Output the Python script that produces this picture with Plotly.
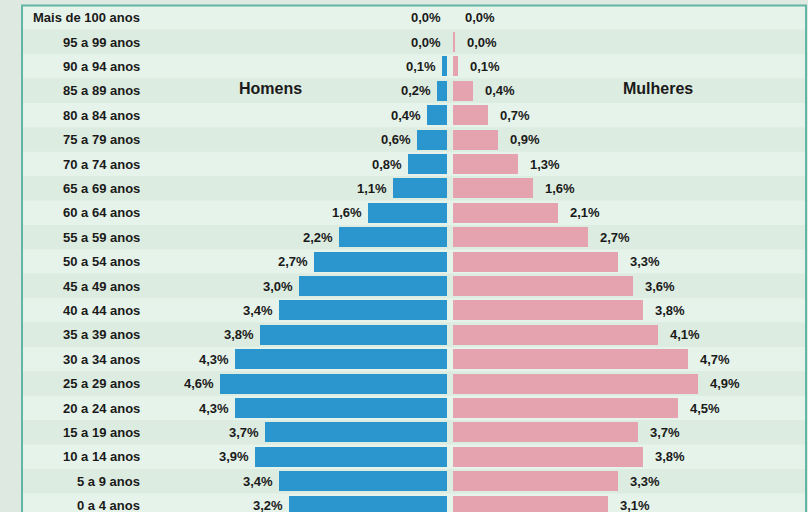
import plotly.graph_objects as go

age_groups = ["Mais de 100 anos", "95 a 99 anos", "90 a 94 anos", "85 a 89 anos",
              "80 a 84 anos", "75 a 79 anos", "70 a 74 anos", "65 a 69 anos",
              "60 a 64 anos", "55 a 59 anos", "50 a 54 anos", "45 a 49 anos",
              "40 a 44 anos", "35 a 39 anos", "30 a 34 anos", "25 a 29 anos",
              "20 a 24 anos", "15 a 19 anos", "10 a 14 anos", "5 a 9 anos", "0 a 4 anos"]
men = [0.0, 0.0, 0.1, 0.2, 0.4, 0.6, 0.8, 1.1, 1.6, 2.2, 2.7, 3.0, 3.4, 3.8,
       4.3, 4.6, 4.3, 3.7, 3.9, 3.4, 3.2]
women = [0.0, 0.04, 0.1, 0.4, 0.7, 0.9, 1.3, 1.6, 2.1, 2.7, 3.3, 3.6, 3.8, 4.1,
         4.7, 4.9, 4.5, 3.7, 3.8, 3.3, 3.1]
men_labels = ["0,0%", "0,0%", "0,1%", "0,2%", "0,4%", "0,6%", "0,8%", "1,1%", "1,6%",
              "2,2%", "2,7%", "3,0%", "3,4%", "3,8%", "4,3%", "4,6%", "4,3%", "3,7%",
              "3,9%", "3,4%", "3,2%"]
women_labels = ["0,0%", "0,0%", "0,1%", "0,4%", "0,7%", "0,9%", "1,3%", "1,6%", "2,1%",
                "2,7%", "3,3%", "3,6%", "3,8%", "4,1%", "4,7%", "4,9%", "4,5%", "3,7%",
                "3,8%", "3,3%", "3,1%"]

W, H = 808, 512
FONT = "Arial, 'Liberation Sans', sans-serif"
TXT = "#1a1a1a"
pos = list(range(len(age_groups)))

fig = go.Figure()
fig.add_trace(go.Bar(
    y=pos, x=men, orientation="h", xaxis="x", yaxis="y",
    marker=dict(color="#2b96ce", line=dict(width=0)), width=0.82,
    hoverinfo="skip", showlegend=False))
fig.add_trace(go.Bar(
    y=pos, x=women, orientation="h", xaxis="x2", yaxis="y",
    marker=dict(color="#e5a2af", line=dict(width=0)), width=0.82,
    hoverinfo="skip", showlegend=False))

annotations = []
# row (age group) labels
for i, g in enumerate(age_groups):
    annotations.append(dict(text="<b>%s</b>" % g, xref="paper", yref="y", x=142 / W, y=i,
                            xanchor="right", showarrow=False,
                            font=dict(family=FONT, size=13, color=TXT)))
for i, (v, t) in enumerate(zip(men, men_labels)):
    annotations.append(dict(text="<b>%s</b>" % t, xref="x", yref="y", x=v, y=i,
                            xanchor="right", xshift=-4, showarrow=False,
                            font=dict(family=FONT, size=13, color=TXT)))
for i, (v, t) in enumerate(zip(women, women_labels)):
    annotations.append(dict(text="<b>%s</b>" % t, xref="x2", yref="y", x=v, y=i,
                            xanchor="left", xshift=10, showarrow=False,
                            font=dict(family=FONT, size=13, color=TXT)))
annotations.append(dict(text="<b>Homens</b>", xref="paper", yref="y", x=270 / W, y=3,
                        xanchor="center", yshift=2, showarrow=False,
                        font=dict(family=FONT, size=16, color=TXT)))
annotations.append(dict(text="<b>Mulheres</b>", xref="paper", yref="y", x=658 / W, y=3,
                        xanchor="center", yshift=2, showarrow=False,
                        font=dict(family=FONT, size=16, color=TXT)))

# row bands
shapes = []
for i in pos:
    shapes.append(dict(type="rect", xref="paper", yref="y", x0=22 / W, x1=806 / W,
                       y0=i - 0.5, y1=i + 0.5, layer="below", line=dict(width=0),
                       fillcolor="#e6f3ea" if i % 2 == 0 else "#ddece0"))
shapes.append(dict(type="rect", xref="paper", yref="y", x0=22 / W, x1=806 / W,
                   y0=-0.5, y1=len(pos) + 1, layer="below",
                   line=dict(color="#64b4a3", width=2), fillcolor="rgba(0,0,0,0)"))

male_px = 49.3
female_px = 49.9
male_dom = (147 / W, 447 / W)
female_dom = (453 / W, 806 / W)
row0, pitch = 17.6, 24.4

fig.update_layout(
    width=W, height=H, margin=dict(l=0, r=0, t=0, b=0),
    paper_bgcolor="#dde9e1", plot_bgcolor="rgba(0,0,0,0)",
    bargap=0, shapes=shapes, annotations=annotations,
    font=dict(family=FONT, size=13, color=TXT),
    xaxis=dict(domain=male_dom, range=[(447 - 147) / male_px, 0], visible=False,
               anchor="y", fixedrange=True),
    xaxis2=dict(domain=female_dom, range=[0, (806 - 453) / female_px], visible=False,
                anchor="y", fixedrange=True),
    yaxis=dict(range=[(H - row0) / pitch, -row0 / pitch], visible=False,
               showgrid=False, zeroline=False, anchor="x", fixedrange=True),
)

fig.write_html("out.html")
